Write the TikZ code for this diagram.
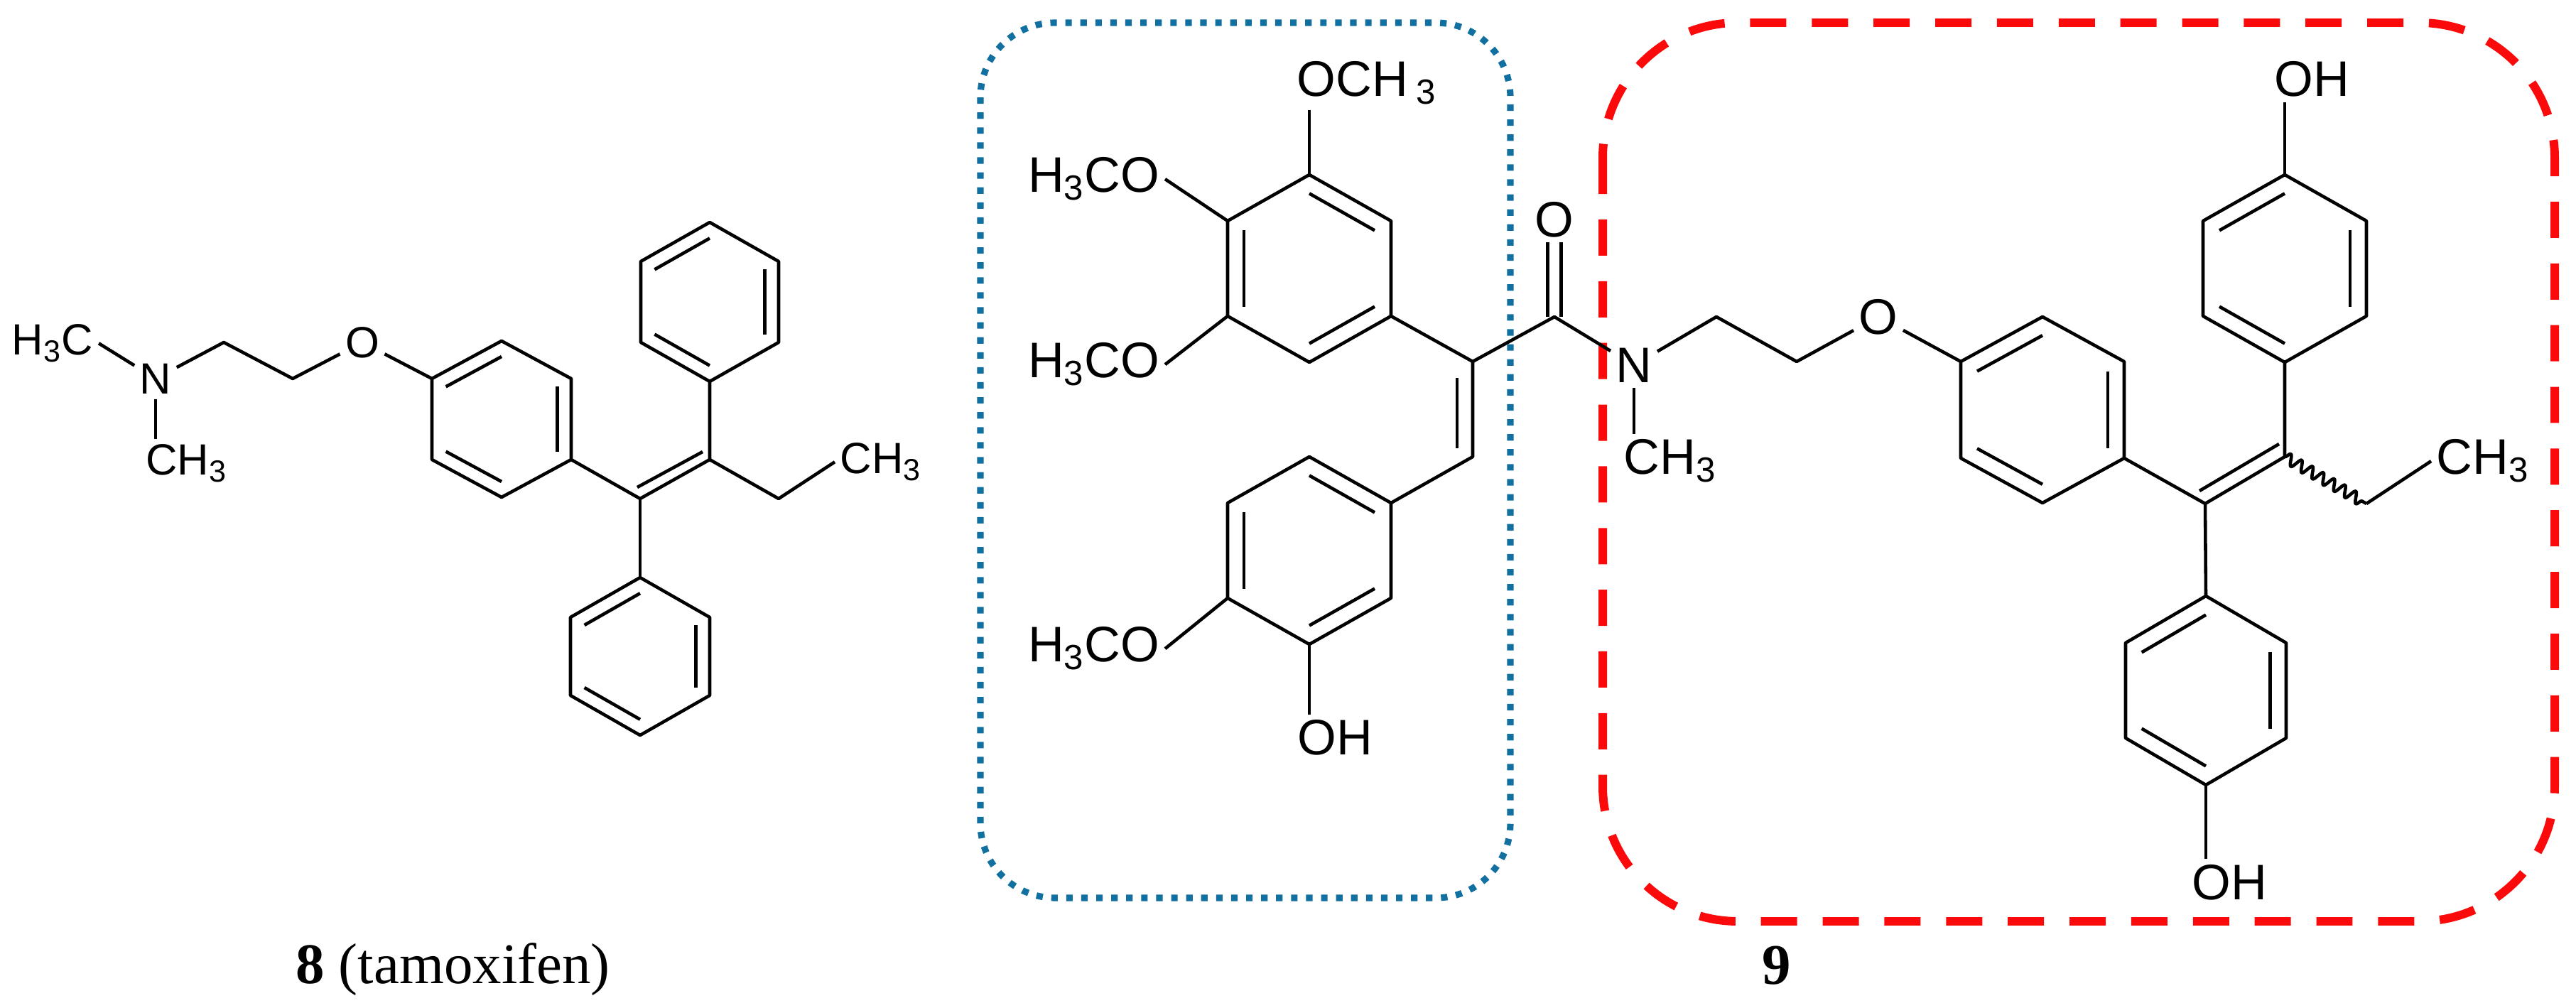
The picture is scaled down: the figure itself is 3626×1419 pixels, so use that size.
\documentclass[tikz,border=0pt]{standalone}
\usepackage{fontspec}
\usepackage{tikz}
\usetikzlibrary{calc,positioning,decorations.pathmorphing}
\newfontfamily\chemfont{Liberation Sans}
\newfontfamily\capfont{Liberation Serif}
\definecolor{boxblue}{RGB}{18,112,160}
\definecolor{boxred}{RGB}{250,10,10}

% pointy-top hexagon: name, cx, cy, half width, half side, tip
\newcommand\ring[6]{%
  \coordinate (#1c)  at (#2,#3);
  \coordinate (#1t)  at (#2,{#3-#5-#6});
  \coordinate (#1ur) at ({#2+#4},{#3-#5});
  \coordinate (#1lr) at ({#2+#4},{#3+#5});
  \coordinate (#1b)  at (#2,{#3+#5+#6});
  \coordinate (#1ll) at ({#2-#4},{#3+#5});
  \coordinate (#1ul) at ({#2-#4},{#3-#5});
  \draw (#1t) -- (#1ur) -- (#1lr) -- (#1b) -- (#1ll) -- (#1ul) -- cycle;}
% inner line of a ring double bond
\newcommand\dbl[3]{\draw ($(#1#2)!0.2!(#1c)$) -- ($(#1#3)!0.2!(#1c)$);}

\begin{document}
\begin{tikzpicture}[x=0.01cm, y=-0.01cm, line width=1.3pt, line join=round,
  atomT/.style={inner sep=1.5pt, font=\chemfont\fontsize{17.5}{17.5}\selectfont},
  atom/.style={inner sep=1.5pt, font=\chemfont\fontsize{20}{20}\selectfont},
  caption/.style={inner sep=0pt, font=\capfont\fontsize{23}{23}\selectfont},
  bluebox/.style={draw=boxblue, line width=2.6pt, dash pattern=on 2.6pt off 3.4pt, rounded corners=1.05cm},
  redbox/.style={draw=boxred, line width=3.4pt, dash pattern=on 14.5pt off 10.2pt, rounded corners=1.9cm},
  wavy/.style={decorate, decoration={snake, amplitude=2.2pt, segment length=5pt}}]
\useasboundingbox (0,0) rectangle (3626,1419);

% frames
\draw[bluebox] (1380,32) rectangle (2126,1264);
\draw[redbox] (2256,32) rectangle (3596,1297);

% ---- tamoxifen
\node[atomT] (nT) at (219,533) {N};
\node[atomT, anchor=base east] (h3cT) at (139,500) {H\textsubscript{3}C};
\node[atomT, anchor=base west] (ch3T) at (198,669) {CH\textsubscript{3}};
\node[atomT] (oT) at (510,482) {O};
\node[atomT, anchor=base west] (ch3E) at (1175,667) {CH\textsubscript{3}};
\coordinate (c1T) at (315,482);
\coordinate (c2T) at (412,533);
\coordinate (caT) at (901,702);
\coordinate (cbT) at (999,647);
\coordinate (etT) at (1096,702);

\ring{rT}{706}{590}{98}{57}{53}
\dbl{rT}{ul}{t} \dbl{rT}{ur}{lr} \dbl{rT}{b}{ll}
\ring{rU}{999}{425}{97}{57}{55}
\dbl{rU}{b}{ll} \dbl{rU}{ul}{t} \dbl{rU}{ur}{lr}
\ring{rW}{901}{924}{98}{55}{56}
\dbl{rW}{t}{ul} \dbl{rW}{ur}{lr} \dbl{rW}{ll}{b}

\draw (h3cT.east) -- (nT);
\draw (nT) -- (nT |- ch3T.north);
\draw (nT) -- (c1T) -- (c2T) -- (oT) -- (rTul);
\draw (rTlr) -- (caT) -- (cbT) -- (rUb);
\draw ($(caT)+(-4,-16)$) -- ($(cbT)+(-10,-11)$);
\draw (caT) -- (rWt);
\draw (cbT) -- (etT) -- (ch3E.west);

\node[caption, anchor=base west] (lab8) at (414,1384) {\textbf{8} (tamoxifen)};

% ---- compound 9, left part
\ring{rA}{1843}{378}{115}{67}{65}
\dbl{rA}{t}{ur} \dbl{rA}{lr}{b} \dbl{rA}{ll}{ul}
\ring{rB}{1843}{775}{115}{67}{65}
\dbl{rB}{t}{ur} \dbl{rB}{ul}{ll} \dbl{rB}{b}{lr}

\node[atom, anchor=base west] (och) at (1818,136) {OCH\,\textsubscript{3}};
\node[atom, anchor=base east] (h3coA) at (1640,271) {H\textsubscript{3}CO};
\node[atom, anchor=base east] (h3coB) at (1640,532) {H\textsubscript{3}CO};
\node[atom, anchor=base east] (h3coC) at (1640,932) {H\textsubscript{3}CO};
\node[atom, anchor=base west] (ohB) at (1819,1063) {OH};
\node[atom] (oC) at (2188,309) {O};
\node[atom] (n9) at (2300,514) {N};
\node[atom, anchor=base west] (ch3N) at (2278,668) {CH\textsubscript{3}};
\coordinate (ca9) at (2073,509);
\coordinate (cb9) at (2073,643);
\coordinate (co9) at (2188,446);

\draw (rAt) -- (rAt |- och.south);
\draw (rAul) -- (h3coA.east);
\draw (rAll) -- (h3coB.east);
\draw (rBll) -- (h3coC.east);
\draw (rBb) -- (rBb |- ohB.north);
\draw (rAlr) -- (ca9) -- (co9) -- (n9);
\draw (ca9) -- (cb9) -- (rBur);
\draw ($(ca9)+(-22,23)$) -- ($(cb9)+(-22,-12)$);
\draw ($(co9)+(-9.5,0)$) -- ($(oC.south)+(-9.5,0)$);
\draw ($(co9)+(9.5,0)$) -- ($(oC.south)+(9.5,0)$);
\draw (n9) -- (n9 |- ch3N.north);

% ---- compound 9, right part
\node[atom] (oE) at (2644,446) {O};
\node[atom, anchor=base west] (ohT) at (3194,136) {OH};
\node[atom, anchor=base west] (ch3R) at (3422,668) {CH\textsubscript{3}};
\node[atom, anchor=base west] (ohD) at (3078,1266) {OH};
\coordinate (m1) at (2416,446);
\coordinate (m2) at (2529,509);
\coordinate (caR) at (3104,709);
\coordinate (cbR) at (3216,643);
\coordinate (wR) at (3331,709);

\ring{rC}{2875}{577}{115}{68}{63}
\dbl{rC}{ul}{t} \dbl{rC}{ur}{lr} \dbl{rC}{ll}{b}
\ring{rD}{3216}{378}{115}{67}{65}
\dbl{rD}{ll}{b} \dbl{rD}{ul}{t} \dbl{rD}{ur}{lr}
\ring{rE}{3105}{972}{113}{67}{66}
\dbl{rE}{t}{ul} \dbl{rE}{ur}{lr} \dbl{rE}{ll}{b}

\draw (n9) -- (m1) -- (m2) -- (oE) -- (rCul);
\draw (rClr) -- (caR) -- (cbR) -- (rDb);
\draw ($(caR)+(-8,-18)$) -- ($(cbR)+(-8,-18)$);
\draw (caR) -- (rEt);
\draw (rDt) -- (rDt |- ohT.south);
\draw (rEb) -- (rEb |- ohD.north);
\draw[wavy] (cbR) -- (wR);
\draw (wR) -- (ch3R.west);

\node[caption, anchor=base] (lab9) at (2501,1385) {\textbf{9}};
\end{tikzpicture}
\end{document}
